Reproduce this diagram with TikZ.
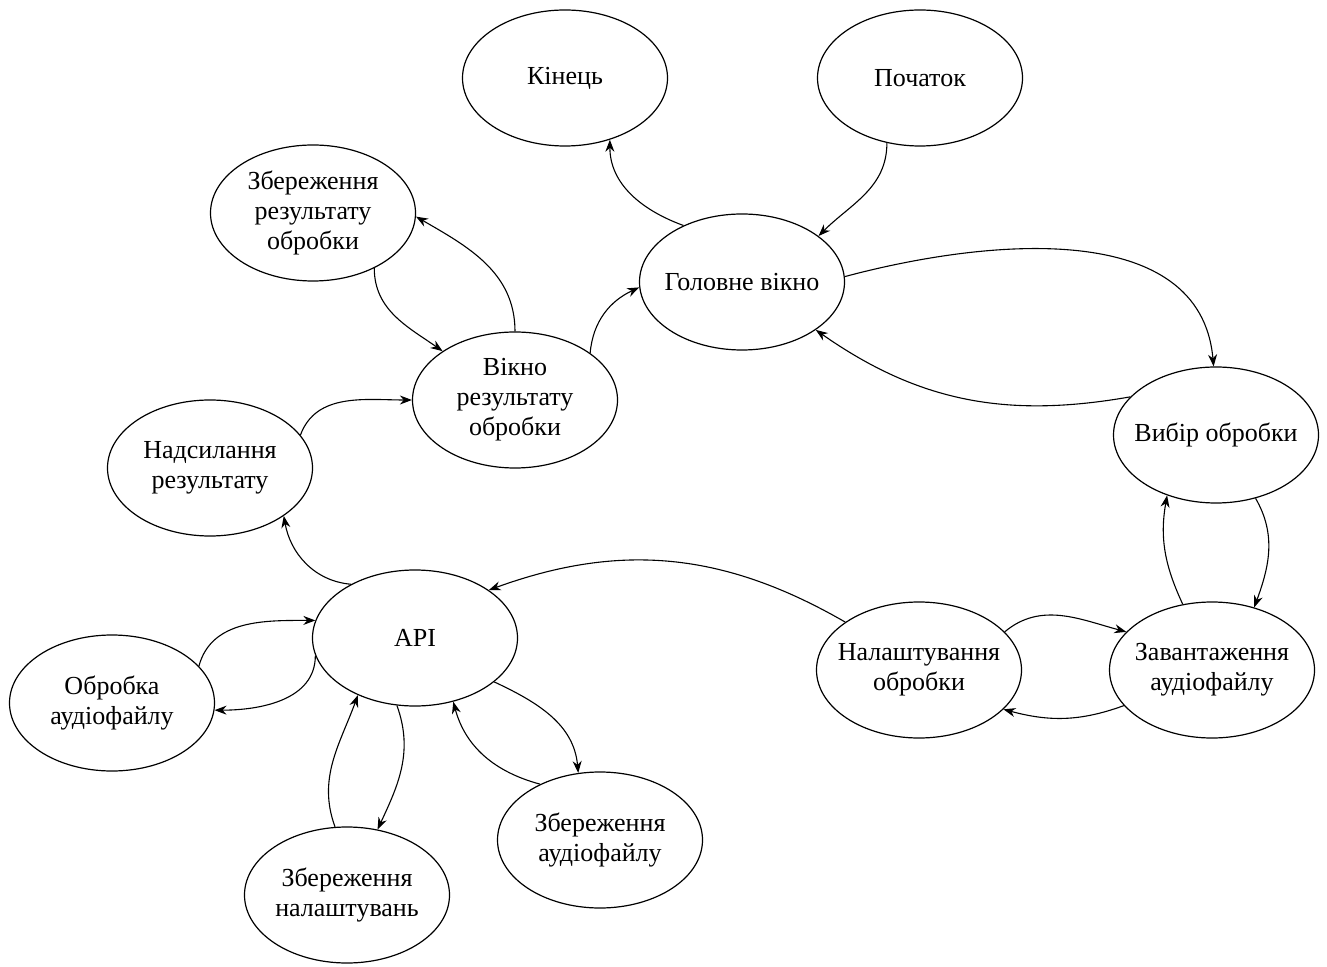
\documentclass[tikz,border=0pt]{standalone}
\usepackage{fontspec}
\setmainfont{Liberation Serif}
\usetikzlibrary{shapes.geometric,arrows.meta}
\begin{document}
\begin{tikzpicture}[x=0.5pt,y=-0.5pt,
  st/.style={ellipse,draw,line width=0.6pt,minimum width=102.5pt,minimum height=68pt,inner xsep=-14pt,inner ysep=0pt,align=center,font=\fontsize{13}{15}\selectfont},
  ar/.style={-{Stealth[length=6pt,width=4.5pt]},line width=0.55pt}]
\useasboundingbox (0,0) rectangle (1327,967);
\node[st] (kin) at (565,78) {Кінець};
\node[st] (poch) at (920,78) {Початок};
\node[st] (zr) at (313,213) {Збереження\\результату\\обробки};
\node[st] (gv) at (742,282) {Головне вікно};
\node[st] (vr) at (515,400) {Вікно\\результату\\обробки};
\node[st] (ns) at (210,468) {Надсилання\\результату};
\node[st] (vb) at (1216,435) {Вибір обробки};
\node[st] (api) at (415,638) {API};
\node[st] (ob) at (112,703) {Обробка\\аудіофайлу};
\node[st] (zn) at (347,895) {Збереження\\налаштувань};
\node[st] (za) at (600,840) {Збереження\\аудіофайлу};
\node[st] (nl) at (919,670) {Налаштування\\обробки};
\node[st] (zv) at (1212,670) {Завантаження\\аудіофайлу};

\draw[ar] (gv.136) to[out=160,in=-90] (kin.-54);
\draw[ar] (poch.-117) to[out=-90,in=45] (gv.31);
\draw[ar] (gv.3) to[out=15,in=95] (vb.92);
\draw[ar] (vb.156) to[out=190,in=-35] (gv.-33);
\draw[ar] (vr.32) to[out=85,in=205] (gv.183);
\draw[ar] (vr.90) to[out=90,in=-30] (zr.-2);
\draw[ar] (zr.-42) to[out=-90,in=145] (vr.146);
\draw[ar] (ns.20) to[out=70,in=180] (vr.180);
\draw[ar] (api.140) to[out=175,in=-80] (ns.-33);
\draw[ar] (nl.147) to[out=150,in=20] (api.33);
\draw[ar] (ob.23) to[out=75,in=180] (api.170);
\draw[ar] (api.190) to[out=-90,in=0] (ob.-4);
\draw[ar] (zn.100) to[out=110,in=-110] (api.-135);
\draw[ar] (api.-105) to[out=-70,in=65] (zn.65);
\draw[ar] (api.-29) to[out=-25,in=95] (za.108);
\draw[ar] (za.137) to[out=165,in=-75] (api.-59);
\draw[ar] (nl.24) to[out=40,in=165] (zv.156);
\draw[ar] (zv.202) to[out=200,in=-15] (nl.-25);
\draw[ar] (zv.114) to[out=115,in=-100] (vb.-129);
\draw[ar] (vb.-58) to[out=-60,in=70] (zv.56);
\end{tikzpicture}
\end{document}
